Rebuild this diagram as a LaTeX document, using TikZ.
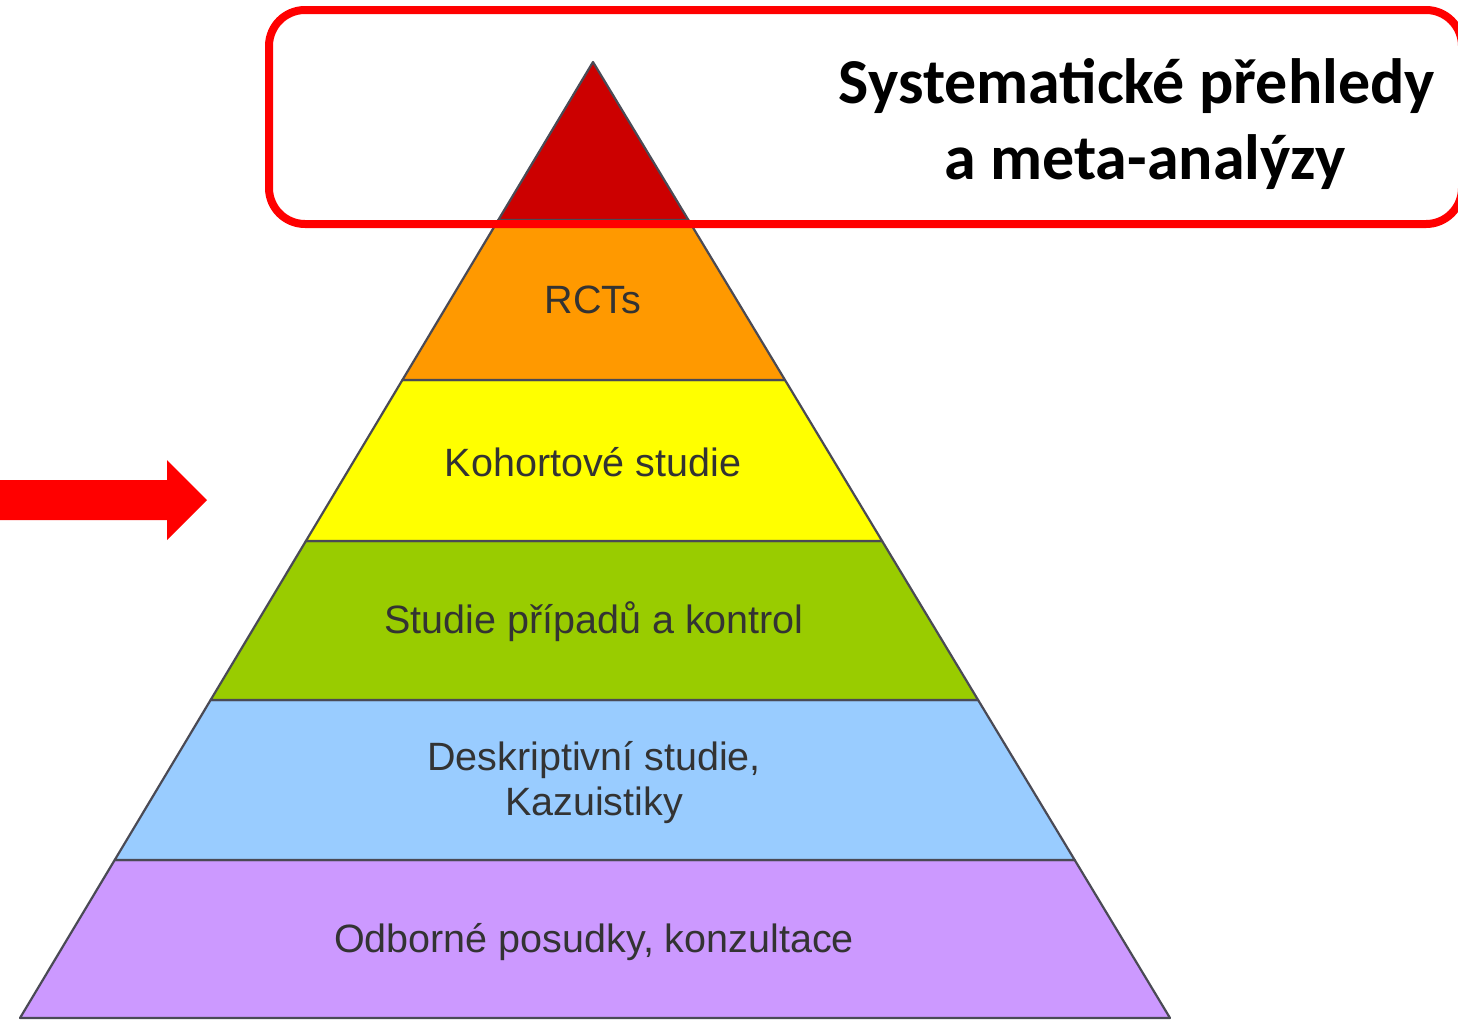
\documentclass[tikz,border=0pt]{standalone}
\usepackage{fontspec}
\setmainfont{Liberation Sans}
\newfontfamily\titlefont{Carlito}
\definecolor{lvred}{HTML}{CC0000}
\definecolor{lvorange}{HTML}{FF9900}
\definecolor{lvyellow}{HTML}{FFFF00}
\definecolor{lvgreen}{HTML}{99CC00}
\definecolor{lvblue}{HTML}{99CCFF}
\definecolor{lvpurple}{HTML}{CC99FF}
\definecolor{lvedge}{HTML}{4A4A55}
\definecolor{lvtext}{HTML}{333333}
\definecolor{boxred}{HTML}{FF0000}
\tikzset{
  level/.style={draw=lvedge, line width=2.2pt, line join=round},
  lvlabel/.style={text=lvtext, font=\fontsize{39.5}{45}\selectfont, align=center, inner sep=0pt},
  titletext/.style={font=\titlefont\bfseries\fontsize{64}{76}\selectfont, anchor=base, inner sep=0pt},
  hlbox/.style={draw=boxred, line width=8pt, rounded corners=36pt},
}
\begin{document}
\begin{tikzpicture}[x=1pt,y=-1pt]
\useasboundingbox (0,0) rectangle (1458,1021);
\fill[white] (0,0) rectangle (1458,1021);
% pyramid levels
\filldraw[level, fill=lvpurple] (114.7,860) -- (1074.7,860) -- (1170,1018) -- (20,1018) -- cycle;
\filldraw[level, fill=lvblue] (210.6,700) -- (978.1,700) -- (1074.7,860) -- (114.7,860) -- cycle;
\filldraw[level, fill=lvgreen] (305.9,541) -- (882.1,541) -- (978.1,700) -- (210.6,700) -- cycle;
\filldraw[level, fill=lvyellow] (402.4,380) -- (785.0,380) -- (882.1,541) -- (305.9,541) -- cycle;
\filldraw[level, fill=lvorange] (498.3,220) -- (688.4,220) -- (785.0,380) -- (402.4,380) -- cycle;
\filldraw[level, fill=lvred] (593,62) -- (688.4,220) -- (498.3,220) -- cycle;
% labels
\node[lvlabel] (rct) at (593,300) {RCTs};
\node[lvlabel] (coh) at (593,462) {Kohortové studie};
\node[lvlabel] (cc) at (594,622) {Studie případů a kontrol};
\node[lvlabel] (desc) at (594,760) {Deskriptivní studie,};
\node[lvlabel] (kaz) at (594,805) {Kazuistiky};
\node[lvlabel] (odb) at (594,942) {Odborné posudky, konzultace};
% highlight box
\draw[hlbox] (269,10) rectangle (1462,224);
\node[titletext] (t1) at (1137,103) {Systematické přehledy};
\node[titletext] (t2) at (1145,179) {a meta-analýzy};
% arrow
\fill[boxred] (0,480) -- (167,480) -- (167,460) -- (207,500) -- (167,540) -- (167,520) -- (0,520) -- cycle;
\end{tikzpicture}
\end{document}
